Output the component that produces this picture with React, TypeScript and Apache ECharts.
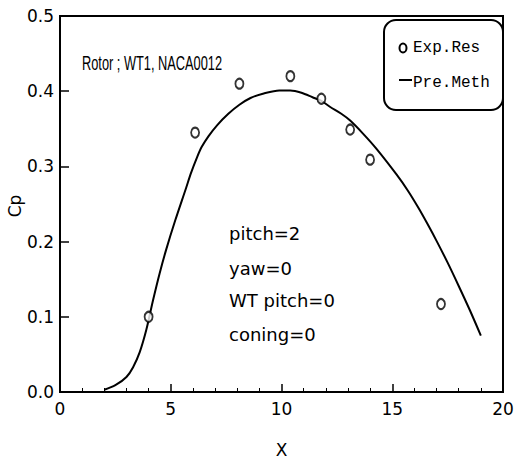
import React, { useEffect, useRef } from "react";
import * as echarts from "echarts";

const curveX = [2.0, 2.5, 3.0, 3.3, 3.6, 3.9, 4.2, 4.5, 4.8, 5.2, 5.7, 5.9, 6.2, 6.4, 6.7, 7.1, 7.6, 8.1, 8.6, 9.2, 9.9, 10.4, 10.9, 11.4, 11.8, 12.2, 12.7, 13.1, 13.7, 14.3, 15.2, 15.7, 16.2, 16.6, 17.0, 17.5, 18.0, 18.5, 19.0];
const curveY = [0.003, 0.009, 0.02, 0.033, 0.053, 0.083, 0.122, 0.158, 0.19, 0.228, 0.272, 0.29, 0.313, 0.326, 0.34, 0.355, 0.37, 0.382, 0.391, 0.397, 0.401, 0.401, 0.398, 0.392, 0.387, 0.379, 0.37, 0.361, 0.343, 0.323, 0.289, 0.268, 0.244, 0.223, 0.201, 0.172, 0.141, 0.109, 0.075];

const expX = [4.0, 6.1, 8.1, 10.4, 11.8, 13.1, 14.0, 17.2];
const expY = [0.1, 0.345, 0.41, 0.42, 0.39, 0.349, 0.309, 0.117];

const xTicks = [0, 5, 10, 15, 20];
const yTicks = [0.0, 0.1, 0.2, 0.3, 0.4, 0.5];

const xName = "X";
const yName = "Cp";
const caseLabel = "Rotor ; WT1, NACA0012";
const conditions = ["pitch=2", "yaw=0", "WT pitch=0", "coning=0"];
const legendNames = ["Exp.Res", "Pre.Meth"];

export default function App() {
  const ref = useRef<HTMLDivElement>(null);
  useEffect(() => {
    if (!ref.current) return;
    const chart = echarts.init(ref.current, null, { renderer: "svg" });
    const sans = "'DejaVu Sans', sans-serif";
    const condY = [233, 268, 300, 334];
    chart.setOption({
      animation: false,
      backgroundColor: "#fff",
      grid: {
        left: 60,
        right: 16,
        top: 16,
        bottom: 66,
        containLabel: false,
        outerBoundsMode: "none",
        show: true,
        borderColor: "#000",
        borderWidth: 2,
      },
      xAxis: {
        type: "value",
        min: xTicks[0],
        max: xTicks[xTicks.length - 1],
        interval: 5,
        name: xName,
        nameLocation: "middle",
        nameGap: 49,
        nameTextStyle: { fontFamily: sans, fontSize: 17, color: "#000" },
        axisLine: { show: true, lineStyle: { color: "#000", width: 2 } },
        axisTick: { show: true, inside: true, length: 8, lineStyle: { color: "#000", width: 1.5 } },
        minorTick: { show: true, splitNumber: 5, length: 4, lineStyle: { color: "#000", width: 1 } },
        splitLine: { show: false },
        axisLabel: { fontFamily: sans, fontSize: 17, color: "#000", margin: 8 },
      },
      yAxis: {
        type: "value",
        min: yTicks[0],
        max: yTicks[yTicks.length - 1],
        interval: 0.1,
        axisLine: { show: true, lineStyle: { color: "#000", width: 2 } },
        axisTick: { show: true, inside: true, length: 9, lineStyle: { color: "#000", width: 1.5 } },
        splitLine: { show: false },
        axisLabel: {
          fontFamily: sans,
          fontSize: 17,
          color: "#000",
          margin: 6,
          formatter: (v: number) => v.toFixed(1),
        },
      },
      series: [
        {
          name: legendNames[1],
          type: "line",
          data: curveX.map((x, i) => [x, curveY[i]]),
          smooth: 0.3,
          showSymbol: false,
          lineStyle: { color: "#000", width: 2 },
          z: 2,
        },
        {
          name: legendNames[0],
          type: "scatter",
          data: expX.map((x, i) => [x, expY[i]]),
          symbol: "circle",
          symbolSize: [8, 10],
          itemStyle: { color: "#fff", borderColor: "#000", borderWidth: 2 },
          z: 3,
        },
      ],
      graphic: [
        {
          type: "text",
          x: 15,
          y: 206,
          rotation: Math.PI / 2,
          style: {
            text: yName,
            fontFamily: sans,
            fontSize: 17,
            fill: "#000",
            align: "center",
            verticalAlign: "middle",
          },
        },
        {
          type: "text",
          x: 82,
          y: 63,
          scaleX: 0.64,
          style: {
            text: caseLabel,
            fontFamily: "'Liberation Sans', Arial, sans-serif",
            fontSize: 20,
            fill: "#000",
            align: "left",
            verticalAlign: "middle",
          },
        },
        ...conditions.map((t, i) => ({
          type: "text",
          x: 229,
          y: condY[i],
          style: {
            text: t,
            fontFamily: sans,
            fontSize: 18,
            fill: "#000",
            align: "left",
            verticalAlign: "middle",
          },
        })),
        {
          type: "rect",
          shape: { x: 384, y: 20, width: 119, height: 90, r: 12 },
          style: { fill: "#fff", stroke: "#000", lineWidth: 2 },
          z: 10,
        },
        {
          type: "ellipse",
          shape: { cx: 403, cy: 48, rx: 3.5, ry: 4.5 },
          style: { fill: "#fff", stroke: "#000", lineWidth: 2 },
          z: 11,
        },
        {
          type: "line",
          shape: { x1: 399, y1: 80, x2: 412, y2: 80 },
          style: { stroke: "#000", lineWidth: 2 },
          z: 11,
        },
        ...legendNames.map((t, i) => ({
          type: "text",
          x: 413,
          y: i === 0 ? 48 : 83,
          style: {
            text: t,
            fontFamily: "'Liberation Mono', monospace",
            fontSize: 16,
            fill: "#000",
            align: "left",
            verticalAlign: "middle",
          },
          z: 11,
        })),
      ],
    });
    return () => chart.dispose();
  }, []);
  return <div ref={ref} style={{ width: 519, height: 458, position: "absolute", left: 0, top: 0 }} />;
}
